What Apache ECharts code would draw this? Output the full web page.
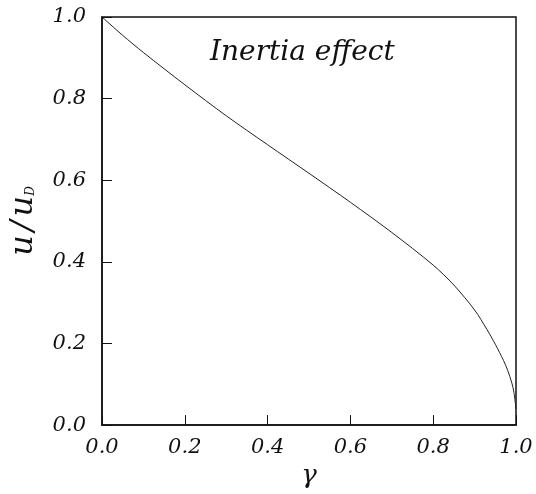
<!DOCTYPE html>
<html>
<head>
<meta charset="utf-8">
<script src="https://cdn.jsdelivr.net/npm/echarts@6/dist/echarts.min.js"></script>
<style>
    html, body {margin: 0; padding: 0; background: #fff;}
    #main {width: 536px; height: 494px;}
</style>
</head>
<body>
<div id="main"></div>
<script>
// 曲线数据
var gammaData = [0, 0.05, 0.1, 0.2, 0.3, 0.4, 0.5, 0.6, 0.7, 0.8, 0.85, 0.9, 0.93, 0.95, 0.97, 0.98, 0.99, 0.995, 1.0];
var ratioData = [1.0, 0.955, 0.913, 0.834, 0.758, 0.687, 0.617, 0.546, 0.472, 0.392, 0.343, 0.282, 0.234, 0.198, 0.158, 0.134, 0.103, 0.080, 0.04];
var tickLabels = ['0.0', '0.2', '0.4', '0.6', '0.8', '1.0'];

var serif = 'DejaVu Serif';

var points = [];
for (var i = 0; i < gammaData.length; i++) {
    points.push([gammaData[i], ratioData[i]]);
}

function tickText(v) {
    var idx = Math.round(v / 0.2);
    return tickLabels[idx] !== undefined ? tickLabels[idx] : '';
}

var myChart = echarts.init(document.getElementById('main'));
var option = {
    backgroundColor: '#fff',
    animation: false,
    title: {
        text: 'Inertia effect',
        left: 205,
        top: 34,
        textStyle: {
            fontFamily: serif,
            fontStyle: 'italic',
            fontWeight: 'normal',
            fontSize: 28,
            color: '#111'
        }
    },
    grid: {
        left: 100,
        right: 20,
        top: 17,
        bottom: 56,
        show: true,
        borderColor: '#111',
        borderWidth: 1.5,
        backgroundColor: 'rgba(0,0,0,0)'
    },
    xAxis: {
        type: 'value',
        min: 0,
        max: 1,
        interval: 0.2,
        name: 'γ',
        nameLocation: 'middle',
        nameGap: 36,
        nameTextStyle: {
            fontFamily: serif,
            fontStyle: 'italic',
            fontSize: 26,
            color: '#111'
        },
        axisLine: {show: true, lineStyle: {color: '#111', width: 1.5}},
        axisTick: {show: true, inside: true, length: 10, lineStyle: {color: '#111', width: 1}},
        axisLabel: {
            margin: 12,
            formatter: tickText,
            fontFamily: serif,
            fontStyle: 'italic',
            fontSize: 21,
            color: '#111'
        },
        splitLine: {show: false}
    },
    yAxis: {
        type: 'value',
        min: 0,
        max: 1,
        interval: 0.2,
        name: '{a|u}{s|/}{a|u}{d|D}',
        nameLocation: 'middle',
        nameGap: 62,
        nameRotate: 90,
        nameTextStyle: {
            color: '#111',
            rich: {
                a: {fontFamily: serif, fontStyle: 'italic', fontSize: 32, color: '#111'},
                s: {fontFamily: serif, fontStyle: 'italic', fontSize: 32, color: '#111', padding: [0, 4, 0, 4]},
                d: {fontFamily: serif, fontStyle: 'italic', fontSize: 12, color: '#111', padding: [14, 0, 0, 0]}
            }
        },
        axisLine: {show: true, lineStyle: {color: '#111', width: 1.5}},
        axisTick: {show: true, inside: true, length: 10, lineStyle: {color: '#111', width: 1}},
        axisLabel: {
            margin: 16,
            formatter: tickText,
            fontFamily: serif,
            fontStyle: 'italic',
            fontSize: 21,
            color: '#111'
        },
        splitLine: {show: false}
    },
    series: [{
        type: 'line',
        data: points,
        showSymbol: false,
        smooth: 0.3,
        lineStyle: {color: '#222', width: 1}
    }]
};
myChart.setOption(option);
</script>
</body>
</html>
